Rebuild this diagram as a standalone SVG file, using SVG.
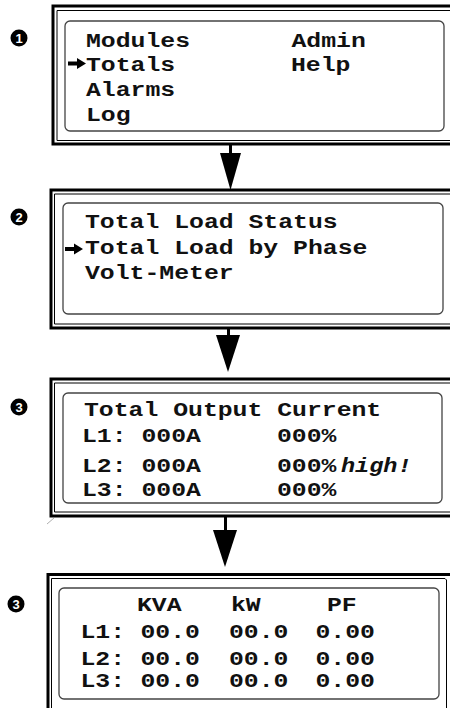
<svg xmlns="http://www.w3.org/2000/svg" width="450" height="708" viewBox="0 0 450 708">
<style>
.t{font-family:"Liberation Mono","Courier New",monospace;font-weight:bold;font-size:21px;fill:#111}
.i{font-style:italic}
.thick{stroke:#000;stroke-width:3;fill:none}
.thin{stroke:#000;stroke-width:1;fill:none}
.lcd{fill:none;stroke:#444;stroke-width:1.3}
.badge{fill:#000}
.bn{font-family:"Liberation Sans",Arial,sans-serif;font-weight:bold;font-size:13px;fill:#fff;text-anchor:middle}
.ptr{fill:#000}
</style>
<rect width="450" height="708" fill="#fff"/>

<g id="screen1">
  <path class="thick" d="M460,6 H53 V144 H460"/>
  <path class="thin" d="M460,10.5 H57 V140.5 H460"/>
  <rect class="lcd" x="65" y="21" width="379" height="110" rx="5"/>
  <circle class="badge" cx="19" cy="38" r="8.5"/>
  <text class="bn" x="19" y="42.5">1</text>
  <text class="t" transform="translate(86,47) scale(1.18,1)">Modules</text>
  <text class="t" transform="translate(291.5,47) scale(1.18,1)">Admin</text>
  <path class="ptr" d="M68,61.5 H77 V58 L86,63.5 L77,69 V65.5 H68 Z"/>
  <text class="t" transform="translate(86,71) scale(1.18,1)">Totals</text>
  <text class="t" transform="translate(291,71) scale(1.18,1)">Help</text>
  <text class="t" transform="translate(86,96) scale(1.18,1)">Alarms</text>
  <text class="t" transform="translate(86,121) scale(1.18,1)">Log</text>
</g>

<g id="screen2">
  <path class="thick" d="M460,190 H51 V328 H460"/>
  <path class="thin" d="M460,194 H54.5 V324 H460"/>
  <rect class="lcd" x="63" y="203" width="380" height="111" rx="5"/>
  <circle class="badge" cx="19" cy="217" r="8.5"/>
  <text class="bn" x="19" y="221.5">2</text>
  <text class="t" transform="translate(85,228) scale(1.18,1)">Total Load Status</text>
  <path class="ptr" d="M65,247 H74 V243.5 L83,249 L74,254.5 V251 H65 Z"/>
  <text class="t" transform="translate(85,254) scale(1.18,1)">Total Load by Phase</text>
  <text class="t" transform="translate(85,279) scale(1.18,1)">Volt-Meter</text>
</g>

<g id="screen3">
  <path class="thick" d="M460,379 H51 V516 H460"/>
  <path class="thin" d="M460,383 H54.5 V512 H460"/>
  <rect class="lcd" x="63" y="393" width="379" height="110" rx="5"/>
  <circle class="badge" cx="19" cy="407" r="8.5"/>
  <text class="bn" x="19" y="411.5">3</text>
  <text class="t" transform="translate(84,415.5) scale(1.18,1)">Total Output Current</text>
  <text class="t" transform="translate(82,442) scale(1.18,1)">L1: 000A</text>
  <text class="t" transform="translate(277,442) scale(1.18,1)">000%</text>
  <text class="t" transform="translate(82,472) scale(1.18,1)">L2: 000A</text>
  <text class="t" transform="translate(277,472) scale(1.18,1)">000%</text>
  <text class="t i" transform="translate(341,472) scale(1.12,1)">high!</text>
  <text class="t" transform="translate(82,495.5) scale(1.18,1)">L3: 000A</text>
  <text class="t" transform="translate(277,495.5) scale(1.18,1)">000%</text>
  <line x1="47" y1="524" x2="54" y2="518" stroke="#999" stroke-width="0.8"/>
</g>

<g id="screen4">
  <path class="thick" d="M48,710 V574.5 H460"/>
  <path class="thin" d="M51.5,710 V578.5 H445 L446.5,580 V710"/>
  <rect class="lcd" x="59" y="588" width="380" height="111" rx="5"/>
  <circle class="badge" cx="16" cy="604" r="8.5"/>
  <text class="bn" x="16" y="608.5">3</text>
  <text class="t" transform="translate(137,611) scale(1.18,1)">KVA</text>
  <text class="t" transform="translate(231,611) scale(1.18,1)">kW</text>
  <text class="t" transform="translate(327,611) scale(1.18,1)">PF</text>
  <text class="t" transform="translate(80.5,638) scale(1.18,1)">L1:</text>
  <text class="t" transform="translate(140.5,638) scale(1.18,1)">00.0</text>
  <text class="t" transform="translate(229,638) scale(1.18,1)">00.0</text>
  <text class="t" transform="translate(315.5,638) scale(1.18,1)">0.00</text>
  <text class="t" transform="translate(80.5,665) scale(1.18,1)">L2:</text>
  <text class="t" transform="translate(140.5,665) scale(1.18,1)">00.0</text>
  <text class="t" transform="translate(229,665) scale(1.18,1)">00.0</text>
  <text class="t" transform="translate(315.5,665) scale(1.18,1)">0.00</text>
  <text class="t" transform="translate(80.5,687) scale(1.18,1)">L3:</text>
  <text class="t" transform="translate(140.5,687) scale(1.18,1)">00.0</text>
  <text class="t" transform="translate(229,687) scale(1.18,1)">00.0</text>
  <text class="t" transform="translate(315.5,687) scale(1.18,1)">0.00</text>
</g>

<g id="connectors">
  <line x1="230.5" y1="144" x2="230.5" y2="154" stroke="#000" stroke-width="3"/>
  <polygon points="220,153 241,153 230.5,190" fill="#000"/>
  <line x1="228.5" y1="328" x2="228.5" y2="336" stroke="#000" stroke-width="3"/>
  <polygon points="216,335 240,335 228,372" fill="#000"/>
  <line x1="225.5" y1="516" x2="225.5" y2="531" stroke="#000" stroke-width="3"/>
  <polygon points="213,530 237,530 225,567" fill="#000"/>
</g>
</svg>
